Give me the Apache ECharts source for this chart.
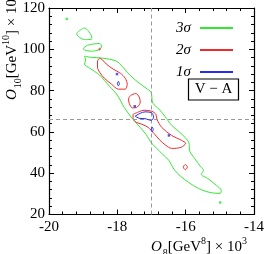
<!DOCTYPE html>
<html>
<head>
<meta charset="utf-8">
<script src="https://cdn.jsdelivr.net/npm/echarts@6/dist/echarts.min.js"></script>
<style>html,body{margin:0;padding:0;background:#fff;}#c{width:267px;height:254px;}</style>
</head>
<body>
<div id="c"></div>
<script>
// ---- axis setup ----
const xMin = -20, xMax = -14, xStep = 2;
const yMin = 20, yMax = 120, yStep = 20;
const xRef = -17, yRef = 66;
const legendNames = ['3σ', '2σ', '1σ'];

// ---- 3 sigma (green) contours ----
const green3Main = [[-18.96,96.7],[-18.81,96.2],[-18.43,95.7],[-18.03,94.3],[-17.86,91.8],[-17.71,88.9],[-17.57,86.5],[-17.36,83.6],[-17.16,81.2],[-17.01,79.2],[-16.99,76.8],[-16.96,73.9],[-16.78,71.0],[-16.61,67.6],[-16.41,63.2],[-16.14,59.3],[-15.91,55.0],[-15.88,50.6],[-15.74,47.2],[-15.57,43.3],[-15.48,41.4],[-15.54,39.4],[-15.36,37.5],[-15.10,34.1],[-14.96,31.7],[-14.99,30.2],[-15.30,30.7],[-15.62,32.6],[-15.91,35.5],[-16.14,38.4],[-16.32,41.4],[-16.41,43.8],[-16.49,46.2],[-16.70,49.6],[-16.99,54.5],[-17.16,58.8],[-17.33,62.2],[-17.57,66.6],[-17.80,71.9],[-18.00,77.8],[-18.23,82.1],[-18.52,87.5],[-18.81,90.9],[-18.96,92.8],[-18.93,94.8],[-18.96,96.7]];
const green3BlobA = [[-19.16,108.3],[-18.96,110.3],[-18.87,109.3],[-18.75,105.9],[-18.75,104.95],[-18.96,104.7],[-19.10,105.7],[-19.19,107.4],[-19.16,108.3]];
const green3BlobB = [[-18.99,100.6],[-18.87,102.0],[-18.52,102.8],[-18.46,101.6],[-18.52,99.9],[-18.75,99.1],[-18.96,99.6],[-18.99,100.6]];
const green3Dots = [[-19.48,114.7],[-14.99,25.8]];

// ---- 2 sigma (red) contours ----
const red2Upper = [[-18.52,95.7],[-18.43,94.8],[-18.32,92.8],[-18.12,90.4],[-17.91,88.4],[-17.77,86.0],[-17.71,83.1],[-17.77,80.7],[-17.97,80.7],[-18.17,83.1],[-18.38,86.0],[-18.52,88.9],[-18.58,91.4],[-18.58,94.3],[-18.52,95.7]];
const red2Mid = [[-17.60,77.8],[-17.46,78.6],[-17.36,76.9],[-17.33,74.5],[-17.41,72.1],[-17.56,71.6],[-17.65,73.7],[-17.67,76.2],[-17.60,77.8]];
const red2Lower = [[-17.54,68.5],[-17.36,69.8],[-17.22,70.5],[-16.99,70.0],[-16.87,68.5],[-16.84,66.1],[-16.70,62.2],[-16.41,58.3],[-16.12,55.9],[-16.00,54.5],[-16.14,52.5],[-16.41,52.0],[-16.58,53.5],[-16.75,55.9],[-16.93,59.3],[-17.10,62.2],[-17.28,63.7],[-17.45,64.7],[-17.54,66.6],[-17.54,68.5]];
const red2Ring = [[-16.01,44.3],[-15.95,43.0],[-16.01,41.7],[-16.07,43.0],[-16.01,44.3]];
const red2Tiny = [[-18.52,100.5],[-18.49,100.1],[-18.52,99.7],[-18.55,100.1],[-18.52,100.5]];

// ---- 1 sigma (blue) contours ----
const blue1Main = [[-17.48,67.6],[-17.33,69.0],[-17.19,69.7],[-17.01,69.4],[-16.96,68.5],[-16.94,67.1],[-17.01,65.6],[-17.19,66.4],[-17.36,66.6],[-17.48,67.6]];
const blue1Low = [[-16.98,62.4],[-16.95,61.2],[-16.98,60.0],[-17.01,61.2],[-16.98,62.4]];
const blue1Upper = [[-17.97,84.5],[-17.94,83.4],[-17.97,82.3],[-18.00,83.4],[-17.97,84.5]];
const blue1Dots = [[-18.01,88.0],[-17.49,72.4],[-16.49,58.3]];

const GREEN = '#33e633', RED = '#ee2a2a', BLUE = '#2a2aee';
const SERIF = 'Liberation Serif';

function joinLoops(loops) {
  const out = [];
  loops.forEach((l, i) => { if (i) out.push(['-', '-']); l.forEach(p => out.push(p)); });
  return out;
}

const chart = echarts.init(document.getElementById('c'), null, {renderer: 'canvas'});

const tickCommon = (show) => ({
  axisLine: {show: true, onZero: false, lineStyle: {color: '#000', width: 1.2}},
  axisTick: {show: true, inside: true, length: 5, lineStyle: {color: '#000', width: 1}},
  minorTick: {show: true, splitNumber: 5, length: 3, lineStyle: {color: '#000', width: 1}},
  splitLine: {show: false},
  axisLabel: {show: show, color: '#000', fontFamily: SERIF, fontSize: 15}
});

function lineSeries(name, color, loops, z) {
  return {
    name: name, type: 'line', data: joinLoops(loops), symbol: 'none', showSymbol: false,
    smooth: 0.3, connectNulls: false, z: z,
    lineStyle: {color: color, width: 1}, itemStyle: {color: color},
    animation: false, silent: true
  };
}

const option = {
  animation: false,
  grid: {left: 49, top: 8, width: 207, height: 206.5, containLabel: false},
  xAxis: [
    Object.assign({type: 'value', min: xMin, max: xMax, interval: xStep, position: 'bottom'}, tickCommon(true),
      {axisLabel: {show: true, color: '#000', fontFamily: SERIF, fontSize: 15, margin: 5}}),
    Object.assign({type: 'value', min: xMin, max: xMax, interval: xStep, position: 'top'}, tickCommon(false))
  ],
  yAxis: [
    Object.assign({type: 'value', min: yMin, max: yMax, interval: yStep, position: 'left'}, tickCommon(true),
      {axisLabel: {show: true, color: '#000', fontFamily: SERIF, fontSize: 15, margin: 4}}),
    Object.assign({type: 'value', min: yMin, max: yMax, interval: yStep, position: 'right'}, tickCommon(false))
  ],
  legend: {
    data: legendNames, orient: 'vertical', right: 28, top: 15, align: 'right',
    itemWidth: 33, itemHeight: 10, itemGap: 6,
    itemStyle: {opacity: 0},
    textStyle: {fontFamily: SERIF, fontStyle: 'italic', fontSize: 15, color: '#000', lineHeight: 16, padding: [0, 4, 0, 0]},
    selectedMode: false
  },
  series: [
    {
      name: 'ref', type: 'line', data: [], z: 1, silent: true,
      markLine: {
        silent: true, symbol: 'none', label: {show: false}, animation: false,
        lineStyle: {color: '#999', type: [4, 3], width: 1},
        data: [{xAxis: xRef}, {yAxis: yRef}]
      }
    },
    lineSeries(legendNames[0], GREEN, [green3Main, green3BlobA, green3BlobB], 3),
    lineSeries(legendNames[1], RED, [red2Upper, red2Mid, red2Lower, red2Ring, red2Tiny], 4),
    lineSeries(legendNames[2], BLUE, [blue1Main, blue1Low, blue1Upper], 5),
    {name: legendNames[0], type: 'scatter', data: green3Dots, symbol: 'rect', symbolSize: 2.5, itemStyle: {color: GREEN}, z: 3, silent: true},
    {name: legendNames[2], type: 'scatter', data: blue1Dots, symbol: 'rect', symbolSize: 2.5, itemStyle: {color: BLUE}, z: 5, silent: true}
  ],
  graphic: [
    {type: 'rect', shape: {x: 188.5, y: 79, width: 50, height: 21}, style: {fill: 'none', stroke: '#000', lineWidth: 1.2}, z: 10},
    {type: 'text', x: 213.5, y: 89.5, style: {text: 'V − A', font: '15px "Liberation Serif"', fill: '#000', align: 'center', verticalAlign: 'middle'}, z: 10},
    {type: 'text', x: 199, y: 247, style: {
      text: '{o|O}{sub|8}{n|[GeV}{sup|8}{n|] × 10}{sup|3}',
      align: 'center', verticalAlign: 'middle',
      rich: {
        o: {fontFamily: SERIF, fontStyle: 'italic', fontSize: 15, lineHeight: 22, verticalAlign: 'middle', fill: '#000', padding: [0, 1, 0, 0]},
        n: {fontFamily: SERIF, fontSize: 15, lineHeight: 22, verticalAlign: 'middle', fill: '#000'},
        sub: {fontFamily: SERIF, fontSize: 10, lineHeight: 10, verticalAlign: 'bottom', fill: '#000'},
        sup: {fontFamily: SERIF, fontSize: 10, lineHeight: 10, verticalAlign: 'top', fill: '#000'}
      }}, z: 10},
    {type: 'text', x: 12, y: 47, rotation: Math.PI / 2, style: {
      text: '{o|O}{sub|10}{n|[GeV}{sup|10}{n|] × 10}{sup|3}',
      align: 'center', verticalAlign: 'middle',
      rich: {
        o: {fontFamily: SERIF, fontStyle: 'italic', fontSize: 15, lineHeight: 22, verticalAlign: 'middle', fill: '#000', padding: [0, 1, 0, 0]},
        n: {fontFamily: SERIF, fontSize: 15, lineHeight: 22, verticalAlign: 'middle', fill: '#000'},
        sub: {fontFamily: SERIF, fontSize: 10, lineHeight: 10, verticalAlign: 'bottom', fill: '#000'},
        sup: {fontFamily: SERIF, fontSize: 10, lineHeight: 10, verticalAlign: 'top', fill: '#000'}
      }}, z: 10}
  ]
};
chart.setOption(option);
</script>
</body>
</html>
